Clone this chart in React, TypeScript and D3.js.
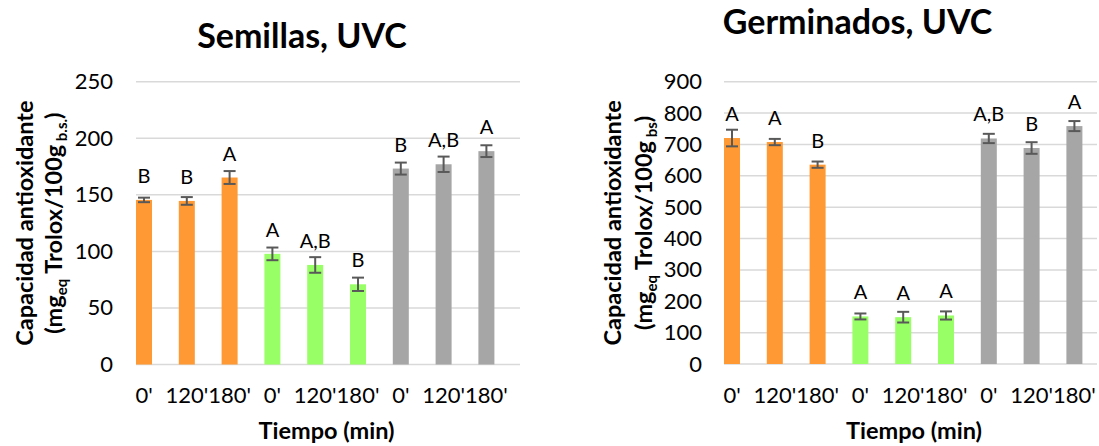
import React from 'react';
import * as d3 from 'd3';

// tiempos de exposicion (eje x), repetidos para los tres grupos
const tiempos = ["0'", "120'", "180'", "0'", "120'", "180'", "0'", "120'", "180'"];
const coloresGrupo = ['#FF9933', '#99FF66', '#A6A6A6'];

// Semillas, UVC
const semillasMedia = [145.5, 144.6, 165.3, 97.8, 88, 70.9, 173.2, 177, 188.6];
const semillasError = [2, 3.4, 5.7, 5.6, 6.9, 5.9, 5.3, 6.8, 5.2];
const semillasLetras = ['B', 'B', 'A', 'A', 'A,B', 'B', 'B', 'A,B', 'A'];
const semillasTicks = [0, 50, 100, 150, 200, 250];

// Germinados, UVC
const germinadosMedia = [720.4, 707.6, 635.5, 151.6, 149.3, 154.7, 719, 688.6, 758.5];
const germinadosError = [26.5, 10, 10, 9.5, 17, 13, 14.8, 18.5, 16];
const germinadosLetras = ['A', 'A', 'B', 'A', 'A', 'A', 'A,B', 'B', 'A'];
const germinadosTicks = [0, 100, 200, 300, 400, 500, 600, 700, 800, 900];

const FONT = 'Lato, "Open Sans", sans-serif';

type ChartProps = {
  title: string;
  titleX: number;
  titleY: number;
  xTitleX: number;
  media: number[];
  error: number[];
  letras: string[];
  ticks: number[];
  sub: string;
  x0: number; // centro de la primera barra
  gridEnd: number;
  tickRight: number;
  titleX1: number;
  titleX2: number;
  yTop: number;
  yZero: number;
};

const Chart = (p: ChartProps) => {
  const idx = tiempos.map((_, i) => i);
  const step = 42.8;
  const x = d3.scaleBand<number>()
    .domain(idx)
    .range([p.x0 - step / 2, p.x0 - step / 2 + step * idx.length])
    .paddingInner(0.626)
    .paddingOuter(0.313);
  const y = d3.scaleLinear()
    .domain([0, d3.max(p.ticks) as number])
    .range([p.yZero, p.yTop]);
  const bw = x.bandwidth();
  const gridStart = (x(0) as number);
  const yMid = (p.yZero + p.yTop) / 2;

  return (
    <g fontFamily={FONT}>
      <text x={p.titleX} y={p.titleY} textAnchor="middle" fontWeight="bold" fontSize={34}>{p.title}</text>

      {p.ticks.map(t => (
        <g key={t}>
          <line x1={gridStart} x2={p.gridEnd} y1={y(t)} y2={y(t)} stroke="#D9D9D9" strokeWidth={1.5} />
          <text x={p.tickRight} y={y(t) + 7.5} textAnchor="end" fontSize={22} fill="#000">{t}</text>
        </g>
      ))}

      {p.media.map((v, i) => {
        const cx = (x(i) as number) + bw / 2;
        return (
          <g key={i}>
            <rect x={x(i)} y={y(v)} width={bw} height={y(0) - y(v)} fill={coloresGrupo[Math.floor(i / 3)]} />
            <line x1={cx} x2={cx} y1={y(v - p.error[i])} y2={y(v + p.error[i])} stroke="#595959" strokeWidth={2} />
            <line x1={cx - 6} x2={cx + 6} y1={y(v - p.error[i])} y2={y(v - p.error[i])} stroke="#595959" strokeWidth={2} />
            <line x1={cx - 6} x2={cx + 6} y1={y(v + p.error[i])} y2={y(v + p.error[i])} stroke="#595959" strokeWidth={2} />
            <text x={cx} y={y(v) - 17} textAnchor="middle" fontSize={20}>{p.letras[i]}</text>
            <text x={cx} y={p.yZero + 38.5} textAnchor="middle" fontSize={22}>{tiempos[i]}</text>
          </g>
        );
      })}

      <text x={p.xTitleX} y={438.5} textAnchor="middle" fontWeight="bold" fontSize={23.5}>Tiempo (min)</text>

      <g transform={`translate(${p.titleX1},${yMid}) rotate(-90)`}>
        <text textAnchor="middle" fontWeight="bold" fontSize={23.5}>Capacidad antioxidante</text>
      </g>
      <g transform={`translate(${p.titleX2},${yMid}) rotate(-90)`}>
        <text textAnchor="middle" fontWeight="bold" fontSize={23.5}>
          (mg<tspan fontSize={15} dy={5}>eq</tspan>
          <tspan dy={-5}> Trolox/100g</tspan>
          <tspan fontSize={15} dy={5}> {p.sub}</tspan>
          <tspan dy={-5}>)</tspan>
        </text>
      </g>
    </g>
  );
};

const App = () => (
  <svg width={1099} height={446} style={{ position: 'absolute', left: 0, top: 0, background: '#fff' }}>
    <rect width={1099} height={446} fill="#fff" />
    <Chart title="Semillas, UVC" titleX={302} titleY={48} xTitleX={326.5} media={semillasMedia} error={semillasError}
      letras={semillasLetras} ticks={semillasTicks} sub="b.s." x0={144} gridEnd={520} tickRight={113}
      titleX1={33} titleX2={62} yTop={81.7} yZero={364.5} />
    <Chart title="Germinados, UVC" titleX={857.5} titleY={34} xTitleX={914} media={germinadosMedia} error={germinadosError}
      letras={germinadosLetras} ticks={germinadosTicks} sub="bs" x0={732} gridEnd={1097} tickRight={702}
      titleX1={621} titleX2={652} yTop={81.7} yZero={364} />
  </svg>
);

export default App;
